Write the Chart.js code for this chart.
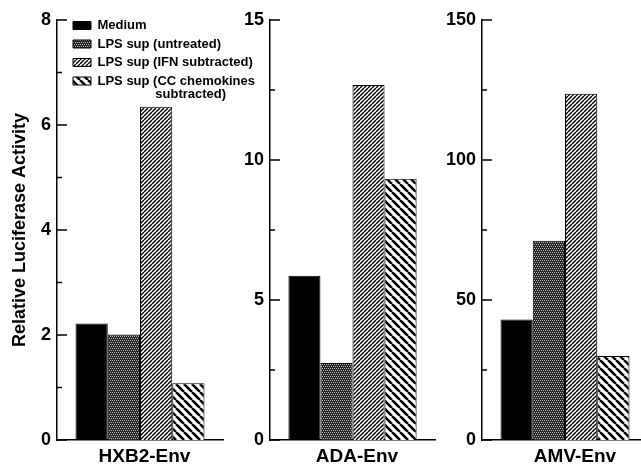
<!DOCTYPE html>
<html><head><meta charset="utf-8">
<script src="https://cdn.jsdelivr.net/npm/chart.js@4"></script>
<style>
html,body{margin:0;padding:0;background:#fff;overflow:hidden;}
#wrap{position:relative;width:641px;height:466px;background:#fff;overflow:hidden;}
canvas{position:absolute;left:0;top:0;}
</style></head><body>
<div id="wrap">
<canvas id="c0" width="641" height="466"></canvas>
<canvas id="c1" width="641" height="466"></canvas>
<canvas id="c2" width="660" height="466"></canvas>
</div>
<script>
// ---- data ----
const categories = ['HXB2-Env', 'ADA-Env', 'AMV-Env'];
const seriesLabels = ['Medium', 'LPS sup (untreated)', 'LPS sup (IFN subtracted)', 'LPS sup (CC chemokines subtracted)'];
const legendLines = [['Medium'], ['LPS sup (untreated)'], ['LPS sup (IFN subtracted)'], ['LPS sup (CC chemokines', '                subtracted)']];
const medium = [2.22, 5.87, 43.0];
const lpsUntreated = [2.01, 2.75, 71.2];
const lpsIfnSubtracted = [6.35, 12.68, 123.7];
const lpsCcSubtracted = [1.08, 9.33, 30.0];
const yMax = [8, 15, 150];
const yMinorStep = [1, 2.5, 25];
const yTickLabels = [[0, 2, 4, 6, 8], [0, 5, 10, 15], [0, 50, 100, 150]];
const yTitle = 'Relative Luciferase Activity';

// ---- layout (pixels) ----
const canvasW = [641, 641, 660];
const axisX = [57, 270, 482];
const axisW = [57, 40, 45];
const rightEdge = [223, 435, 648];
const labelShift = [4.5, 4.5, 10];
const FONT = "'Liberation Sans', Arial, Helvetica, sans-serif";
Chart.defaults.font.family = FONT;
Chart.defaults.color = '#000';

function hatch(ctx, p, lw, dir) {
  const c = document.createElement('canvas'); c.width = p; c.height = p;
  const g = c.getContext('2d');
  g.fillStyle = '#fff'; g.fillRect(0, 0, p, p);
  g.strokeStyle = '#000'; g.lineWidth = lw;
  g.beginPath();
  for (let k = -1; k <= 1; k++) {
    if (dir > 0) { g.moveTo(k * p, p); g.lineTo(k * p + p, 0); }
    else { g.moveTo(k * p, 0); g.lineTo(k * p + p, p); }
  }
  g.stroke();
  return ctx.createPattern(c, 'repeat');
}
function dots(ctx) {
  const c = document.createElement('canvas'); c.width = 4; c.height = 4;
  const g = c.getContext('2d');
  g.fillStyle = '#262626'; g.fillRect(0, 0, 4, 4);
  g.fillStyle = '#b4b4b4';
  [[0, 0], [2, 0], [1, 2], [3, 2]].forEach(([x, y]) => g.fillRect(x, y, 1, 1));
  return ctx.createPattern(c, 'repeat');
}

const inwardTicks = {
  id: 'inwardTicks',
  afterDraw(chart, args, opts) {
    const s = chart.scales.y, ctx = chart.ctx, x0 = chart.chartArea.left;
    ctx.save(); ctx.strokeStyle = '#000'; ctx.lineWidth = 1.5; ctx.beginPath();
    s.ticks.forEach(t => {
      const y = s.getPixelForValue(t.value);
      const major = opts.major.some(m => Math.abs(m - t.value) < 1e-6);
      ctx.moveTo(x0, y); ctx.lineTo(x0 + (major ? 10 : 5), y);
    });
    ctx.stroke(); ctx.restore();
  }
};
const legendNudge = {
  id: 'legendNudge',
  afterLayout(chart, args, opts) {
    const l = chart.legend;
    if (!l || !opts.on) return;
    l.left += opts.dx; l.right += opts.dx + opts.extraW; l.width += opts.extraW;
    l.top += opts.dy; l.bottom += opts.dy;
  }
};

function makeChart(i) {
  const canvas = document.getElementById('c' + i);
  const ctx = canvas.getContext('2d');
  const fills = ['#000', dots(ctx), hatch(ctx, 4, 1.4, 1), hatch(ctx, 8, 2.6, -1)];
  const values = [medium, lpsUntreated, lpsIfnSubtracted, lpsCcSubtracted];
  const datasets = values.map((v, k) => ({
    label: seriesLabels[k], data: [v[i]], backgroundColor: fills[k],
    borderColor: '#000', borderWidth: 1, categoryPercentage: 0.777, barPercentage: 1
  }));
  const bold18 = { family: FONT, size: 18, weight: 'bold' };
  const bold19 = { family: FONT, size: 19, weight: 'bold' };
  new Chart(canvas, {
    type: 'bar',
    data: { labels: [categories[i]], datasets },
    options: {
      responsive: false, animation: false, devicePixelRatio: 1,
      layout: { padding: { left: axisX[i] - axisW[i], right: canvasW[i] - rightEdge[i], top: 20, bottom: 0 } },
      plugins: {
        tooltip: { enabled: false },
        inwardTicks: { major: yTickLabels[i] },
        legendNudge: { on: i === 0, dx: 10.5, dy: 13.5, extraW: 80 },
        legend: {
          display: i === 0, position: 'chartArea', align: 'start',
          labels: {
            boxWidth: 18, boxHeight: 8, padding: 5.5, color: '#000',
            font: { family: FONT, size: 13, weight: 'bold', lineHeight: 1.05 },
            generateLabels(chart) {
              const items = Chart.defaults.plugins.legend.labels.generateLabels(chart);
              items.forEach((it, k) => { it.text = legendLines[k].length > 1 ? legendLines[k] : legendLines[k][0]; it.fontColor = '#000'; });
              return items;
            }
          }
        }
      },
      scales: {
        x: {
          type: 'category', offset: true,
          afterFit(s) { s.height = 26; },
          grid: { display: false, drawTicks: false },
          border: { display: true, color: '#000', width: 1.5 },
          ticks: { color: '#000', font: bold19, padding: 5, labelOffset: labelShift[i], autoSkip: false, maxRotation: 0 }
        },
        y: {
          min: 0, max: yMax[i],
          afterFit(s) { s.width = axisW[i]; },
          grid: { display: false, drawTicks: false },
          border: { display: true, color: '#000', width: 1.5 },
          ticks: {
            stepSize: yMinorStep[i], autoSkip: false, padding: 6, color: '#000', font: bold18,
            callback: v => yTickLabels[i].some(m => Math.abs(m - v) < 1e-6) ? String(v) : ''
          },
          title: i === 0
            ? { display: true, text: yTitle, color: '#000', font: bold18, padding: { top: 9, bottom: 0 } }
            : { display: false }
        }
      }
    },
    plugins: [inwardTicks, legendNudge]
  });
}
[0, 1, 2].forEach(makeChart);
</script>
</body></html>
